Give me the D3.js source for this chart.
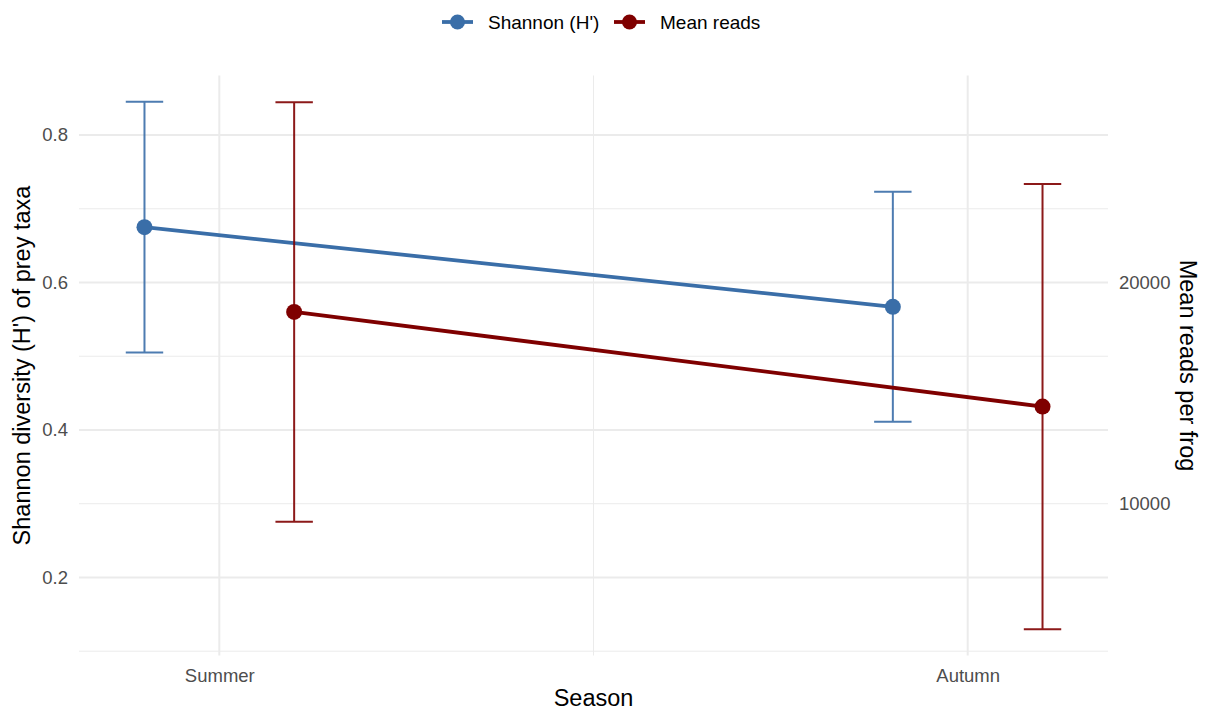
<!DOCTYPE html>
<html>
<head>
<meta charset="utf-8">
<script src="https://cdn.jsdelivr.net/npm/d3@7"></script>
<style>
  html, body { margin: 0; padding: 0; background: #fff; }
  svg { display: block; font-family: "Liberation Sans", Arial, Helvetica, sans-serif; }
</style>
</head>
<body>
<svg id="chart" width="1207" height="711"></svg>
<script>
// Seasons on the x axis
const seasons = ["Summer", "Autumn"];

// Shannon diversity (H') per season: mean and error half-width
const shannonMean = [0.675, 0.567];
const shannonErr = [0.170, 0.156];

// Mean reads per frog per season: mean and error half-width
const readsMean = [18670, 14390];
const readsErr = [9480, 10060];

// Tick labels
const leftTicks = [0.2, 0.4, 0.6, 0.8];
const leftMinorTicks = [0.1, 0.3, 0.5, 0.7];
const rightTicks = [10000, 20000];

// Secondary axis: reads are drawn on the H' scale via this factor
const readsPerUnit = 100000 / 3;

const series = [
  { name: "Shannon (H')", color: "#3A6EA8", dodge: -0.1,
    mean: shannonMean, err: shannonErr, toY: v => v },
  { name: "Mean reads", color: "#7F0000", dodge: 0.1,
    mean: readsMean, err: readsErr, toY: v => v / readsPerUnit }
];

const svg = d3.select("#chart");
const panel = { left: 79, right: 1108, top: 75.5, bottom: 655.5 };

// Discrete positions 1..n, dodged by +/-0.1 with caps of width 0.05, padded 5%
const x = d3.scaleLinear().domain([0.8125, 2.1875]).range([panel.left, panel.right]);

// Y extent from all error-bar ends, padded 5%
const allY = [];
series.forEach(s => s.mean.forEach((m, i) => {
  allY.push(s.toY(m - s.err[i]), s.toY(m + s.err[i]));
}));
const yMin = d3.min(allY), yMax = d3.max(allY), pad = (yMax - yMin) * 0.05;
const y = d3.scaleLinear().domain([yMin - pad, yMax + pad]).range([panel.bottom, panel.top]);
const yReads = d3.scaleLinear()
  .domain(y.domain().map(v => v * readsPerUnit))
  .range(y.range());

const grid = svg.append("g");
// minor horizontal gridlines
grid.selectAll(".hminor").data(leftMinorTicks).join("line")
  .attr("x1", panel.left).attr("x2", panel.right)
  .attr("y1", d => y(d)).attr("y2", d => y(d))
  .attr("stroke", "#EBEBEB").attr("stroke-width", 1);
// major horizontal gridlines
grid.selectAll(".hmajor").data(leftTicks).join("line")
  .attr("x1", panel.left).attr("x2", panel.right)
  .attr("y1", d => y(d)).attr("y2", d => y(d))
  .attr("stroke", "#EBEBEB").attr("stroke-width", 2);
// minor vertical gridline between seasons
grid.append("line")
  .attr("x1", x(1.5)).attr("x2", x(1.5))
  .attr("y1", panel.top).attr("y2", panel.bottom)
  .attr("stroke", "#EBEBEB").attr("stroke-width", 1);
// major vertical gridlines at each season
grid.selectAll(".vmajor").data(seasons).join("line")
  .attr("x1", (d, i) => x(i + 1)).attr("x2", (d, i) => x(i + 1))
  .attr("y1", panel.top).attr("y2", panel.bottom)
  .attr("stroke", "#EBEBEB").attr("stroke-width", 2);

// Axes (text only, theme_minimal style)
const tickFont = 18.5;
const tickStyle = g => {
  g.select(".domain").remove();
  g.selectAll(".tick line").remove();
  g.selectAll(".tick text").attr("fill", "#4D4D4D").attr("font-size", tickFont);
};
svg.append("g").attr("transform", `translate(${panel.left},0)`)
  .call(d3.axisLeft(y).tickValues(leftTicks).tickFormat(d3.format(".1f")).tickSize(0).tickPadding(11))
  .call(tickStyle);
svg.append("g").attr("transform", `translate(${panel.right},0)`)
  .call(d3.axisRight(yReads).tickValues(rightTicks).tickFormat(d3.format("d")).tickSize(0).tickPadding(11))
  .call(tickStyle);
svg.append("g").attr("transform", `translate(0,${panel.bottom})`)
  .call(d3.axisBottom(x).tickValues([1, 2]).tickFormat((d, i) => seasons[i]).tickSize(0).tickPadding(13))
  .call(tickStyle);

// Axis titles
const titleFont = 23.5;
svg.append("text").attr("x", (panel.left + panel.right) / 2).attr("y", 706)
  .attr("text-anchor", "middle").attr("font-size", titleFont).attr("fill", "#000").text("Season");
svg.append("text").attr("transform", `translate(30,${(panel.top + panel.bottom) / 2}) rotate(-90)`)
  .attr("text-anchor", "middle").attr("font-size", titleFont).attr("fill", "#000")
  .text("Shannon diversity (H') of prey taxa");
svg.append("text").attr("transform", `translate(1180,${(panel.top + panel.bottom) / 2}) rotate(90)`)
  .attr("text-anchor", "middle").attr("font-size", titleFont).attr("fill", "#000")
  .text("Mean reads per frog");

// Series: error bars, connecting line, points
const capHalf = 0.025;
series.forEach(s => {
  const g = svg.append("g");
  const pts = s.mean.map((m, i) => ({
    xp: i + 1 + s.dodge, m: s.toY(m), lo: s.toY(m - s.err[i]), hi: s.toY(m + s.err[i])
  }));
  g.selectAll(".bar").data(pts).join("path")
    .attr("d", d => `M${x(d.xp - capHalf)},${y(d.hi)}H${x(d.xp + capHalf)}` +
      `M${x(d.xp)},${y(d.hi)}V${y(d.lo)}` +
      `M${x(d.xp - capHalf)},${y(d.lo)}H${x(d.xp + capHalf)}`)
    .attr("fill", "none").attr("stroke", s.color).attr("stroke-width", 2).attr("opacity", 0.9);
  g.append("path").datum(pts)
    .attr("d", d3.line().x(d => x(d.xp)).y(d => y(d.m)))
    .attr("fill", "none").attr("stroke", s.color).attr("stroke-width", 3.8);
  g.selectAll(".pt").data(pts).join("circle")
    .attr("cx", d => x(d.xp)).attr("cy", d => y(d.m)).attr("r", 8)
    .attr("fill", s.color);
});

// Legend at the top
const legend = svg.append("g");
const legendItems = [
  { x: 442, tx: 488 },
  { x: 614, tx: 660 }
];
series.forEach((s, i) => {
  const li = legendItems[i];
  const g = legend.append("g").attr("transform", `translate(${li.x},22)`);
  g.append("line").attr("x1", 0).attr("x2", 31).attr("y1", 0).attr("y2", 0)
    .attr("stroke", s.color).attr("stroke-width", 3.8);
  g.append("circle").attr("cx", 15.5).attr("cy", 0).attr("r", 7.5).attr("fill", s.color);
  legend.append("text").attr("x", li.tx).attr("y", 29)
    .attr("font-size", 19).attr("fill", "#000").text(s.name);
});
</script>
</body>
</html>
